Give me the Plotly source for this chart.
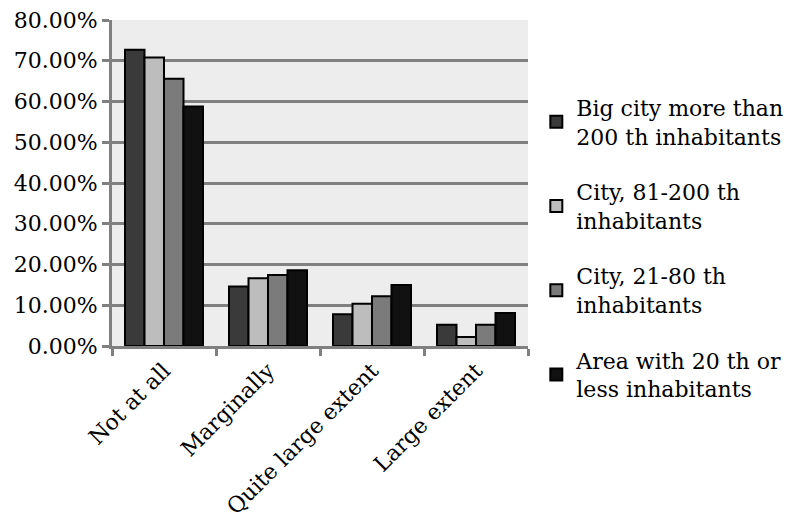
import plotly.graph_objects as go

categories = ["Not at all", "Marginally", "Quite large extent", "Large extent"]
series_names = [
    "Big city more than<br>200 th inhabitants",
    "City, 81-200 th<br>inhabitants",
    "City, 21-80 th<br>inhabitants",
    "Area with 20 th or<br>less inhabitants",
]
big_city = [0.727, 0.146, 0.078, 0.052]
city_81_200 = [0.708, 0.166, 0.104, 0.022]
city_21_80 = [0.656, 0.174, 0.122, 0.052]
area_20 = [0.588, 0.186, 0.150, 0.081]
colors = ["#3a3a3a", "#bdbdbd", "#7b7b7b", "#111111"]

fig = go.Figure()
for i, (name, vals) in enumerate(zip(series_names, [big_city, city_81_200, city_21_80, area_20])):
    fig.add_trace(go.Bar(
        x=categories, y=vals, name=name, legendgroup=str(i),
        marker=dict(color=colors[i], line=dict(color="#000000", width=2)),
    ))

# only DejaVu Serif resolves as a serif face here
font = dict(family="DejaVu Serif", size=22, color="#000000")

# page body has an 8px margin, so the figure is 8px smaller and margins shifted
fig.update_layout(
    width=792, height=516,
    margin=dict(l=104, r=270, t=12, b=178),
    paper_bgcolor="white", plot_bgcolor="#ededed",
    barmode="group", bargap=0.25, bargroupgap=0,
    font=font,
    showlegend=True,
    # legend is taller than the plot area, so give it a pixel max height (no scrollbar)
    legend=dict(x=1.02, y=0.30, xanchor="left", yanchor="middle",
                font=font, tracegroupgap=24, itemsizing="constant", maxheight=500),
    xaxis=dict(tickangle=-45, showline=True, linecolor="#808080", linewidth=3,
               ticks="outside", tickson="boundaries", ticklen=7, tickwidth=3,
               tickcolor="#808080", showgrid=False, tickfont=font, automargin=False),
    yaxis=dict(range=[0, 0.8001], tickvals=[i / 10 for i in range(9)], tickformat=".2%",
               showline=True, linecolor="#808080", linewidth=3,
               ticks="outside", ticklen=7, tickwidth=3, tickcolor="#808080",
               showgrid=True, gridcolor="#808080", gridwidth=3,
               zeroline=False, tickfont=font, automargin=False,
               ticklabeloverflow="allow"),
)

fig.write_html("out.html")
